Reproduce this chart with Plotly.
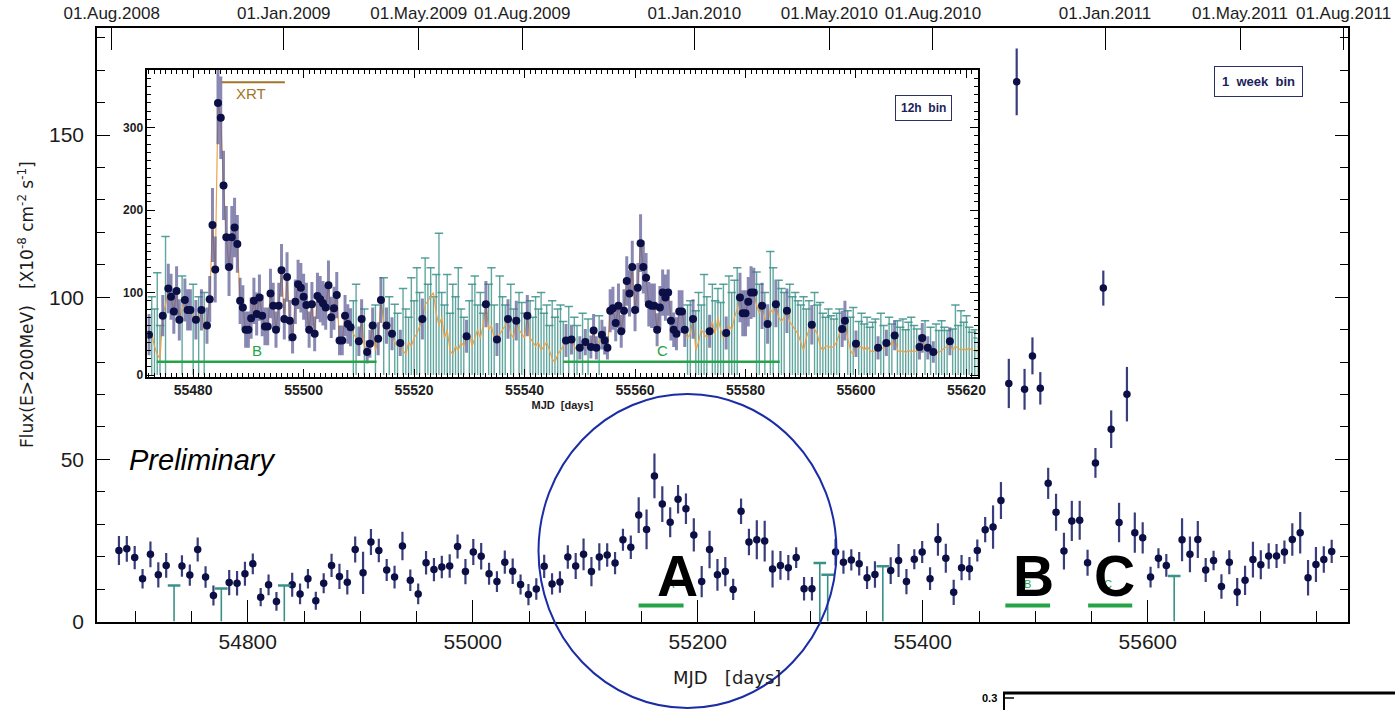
import datetime as dt
import plotly.graph_objects as go

# ---------------- weekly light curve (main panel) ----------------
WEEK_START = 54685.5          # centre of the first 1-week bin (MJD)
WEEK_STEP = 7.0

week_flux = [
    21.9, 22.4, 19.7, 13.2, 20.7, 14.4, 17.3, None, 17.1, 14.3,
    22.2, 13.7, 8.0, None, 12.0, 11.8, 14.7, 17.8, 7.5, 11.3,
    6.2, None, 11.3, 8.5, 13.2, 6.4, 11.8, 17.3, 13.9, 12.1,
    22.2, 15.0, 24.5, 21.9, 15.9, 13.7, 23.3, 12.7, 8.5, 18.1,
    16.0, 16.8, 17.1, 23.1, 15.4, 21.4, 20.1, 14.7, 12.3, 18.3,
    15.5, 11.4, 8.3, 10.0, 17.0, 11.6, 12.2, 19.9, 17.1, 20.7,
    15.4, 19.9, 20.5, 18.0, 25.2, 22.9, 32.8, 28.4, 44.9, 36.2,
    30.6, 37.7, 34.8, 26.7, 12.3, 22.2, 14.4, 15.4, 9.9, 34.0,
    24.5, 25.2, 24.8, 16.2, 17.3, 16.6, 19.7, 10.1, 10.1, None,
    None, 21.4, 18.3, 19.0, 17.8, 13.5, 14.5, None, 15.7, 18.8,
    12.3, 19.2, 21.4, 13.2, 25.3, 19.5, 9.0, 16.6, 16.3, 21.9,
    28.3, 29.1, 37.3, 73.4, 166.4, 71.6, 81.9, 71.9, 42.6, 33.7,
    21.7, 31.0, 31.2, 18.1, 48.9, 102.8, 59.3, 30.5, 70.1, 27.4,
    25.8, 13.7, 19.5, 17.3, None, 25.2, 20.7, 25.3, 15.9, 18.8,
    10.8, 18.3, 9.1, 12.7, 19.1, 17.5, 20.2, 20.2, 21.4, 25.3,
    27.4, 13.5, 17.6, 19.1, 21.6,
]
week_err = [
    4.5, 4.0, 3.6, 3.0, 4.0, 3.9, 3.8, None, 3.3, 3.3,
    3.7, 3.3, 3.1, None, 3.9, 3.8, 3.7, 3.2, 2.8, 3.2,
    2.9, None, 3.7, 3.2, 3.0, 2.8, 3.1, 3.6, 3.9, 3.8,
    4.0, 6.5, 4.0, 3.6, 3.4, 3.5, 4.4, 3.3, 3.2, 3.6,
    3.6, 3.5, 3.6, 3.7, 3.9, 4.0, 4.1, 3.4, 3.2, 3.6,
    3.9, 3.1, 3.3, 3.3, 3.6, 3.3, 3.3, 3.6, 4.0, 4.9,
    4.5, 4.2, 3.6, 3.4, 3.4, 3.6, 5.5, 6.1, 6.9, 5.5,
    4.6, 4.4, 4.7, 5.1, 4.8, 5.8, 4.9, 4.5, 3.3, 3.9,
    4.1, 6.0, 6.3, 5.7, 4.4, 3.9, 3.2, 3.6, 3.6, None,
    None, 4.1, 3.6, 3.3, 3.6, 3.5, 4.1, None, 4.1, 5.1,
    3.9, 3.1, 3.4, 3.5, 5.0, 4.5, 3.9, 3.9, 3.6, 3.4,
    3.9, 6.7, 5.7, 7.6, 10.3, 6.3, 5.7, 5.0, 4.8, 5.7,
    5.7, 6.2, 6.0, 4.0, 4.6, 5.4, 5.8, 6.1, 8.4, 6.2,
    4.8, 3.2, 3.1, 3.5, None, 6.6, 5.5, 5.7, 3.7, 3.0,
    3.8, 3.7, 4.3, 4.5, 5.5, 4.5, 3.9, 3.7, 3.6, 5.0,
    6.4, 5.5, 5.4, 4.1, 3.6,
]
# weekly bins with upper limits only (bin index, flux upper limit)
week_ul_index = [7, 13, 21, 89, 90, 97, 134]
week_ul_value = [11.1, 10.2, 11.1, 18.0, 14.4, 17.0, 14.0]

# activity periods marked under the light curve (MJD start, MJD end, label)
periods = [(55147.4, 55187.4, "A"), (55473.4, 55513.2, "B"), (55547.0, 55586.2, "C")]

# calendar ticks on the upper axis
date_ticks = ["01.Aug.2008", "01.Jan.2009", "01.May.2009", "01.Aug.2009",
              "01.Jan.2010", "01.May.2010", "01.Aug.2010", "01.Jan.2011",
              "01.May.2011", "01.Aug.2011"]

# ---------------- 12 h light curve (inset) ----------------
det_t = [
    55472.0, 55474.5, 55475.5, 55476.0, 55476.5, 55477.0, 55477.5, 55478.5, 55479.0, 55479.5,
    55480.5, 55481.5, 55482.5, 55483.0, 55483.5, 55484.0, 55484.5, 55485.0, 55485.5, 55486.0,
    55486.5, 55487.0, 55487.5, 55488.0, 55488.5, 55489.0, 55489.5, 55490.0, 55490.5, 55491.0,
    55491.5, 55492.0, 55492.5, 55493.0, 55493.5, 55494.0, 55494.5, 55495.0, 55495.5, 55496.0,
    55496.5, 55497.0, 55497.5, 55498.0, 55498.5, 55499.0, 55499.5, 55500.0, 55500.5, 55501.0,
    55501.5, 55502.0, 55502.5, 55503.0, 55503.5, 55504.0, 55504.5, 55505.0, 55505.5, 55506.0,
    55506.5, 55507.0, 55507.5, 55508.0, 55508.5, 55510.0, 55510.5, 55511.5, 55512.0, 55512.5,
    55513.5, 55514.0, 55515.0, 55516.0, 55517.5, 55521.5, 55529.5, 55533.0, 55535.0, 55537.0,
    55538.5, 55540.5, 55547.5, 55548.5, 55550.0, 55551.0, 55552.0, 55552.5, 55553.0, 55554.0,
    55554.5, 55555.0, 55555.5, 55556.0, 55556.5, 55557.0, 55557.5, 55558.0, 55558.5, 55559.0,
    55559.5, 55560.0, 55560.5, 55561.0, 55561.5, 55562.0, 55562.5, 55563.0, 55563.5, 55564.0,
    55564.5, 55565.0, 55565.5, 55566.0, 55566.5, 55567.0, 55567.5, 55568.0, 55568.5, 55569.0,
    55570.5, 55573.5, 55576.5, 55579.0, 55579.5, 55580.0, 55580.5, 55581.0, 55581.5, 55583.0,
    55584.0, 55585.5, 55587.5, 55592.0, 55597.5, 55598.0, 55600.0, 55604.0, 55605.5, 55607.0,
    55611.5, 55612.0, 55613.0, 55614.0, 55617.0,
]
det_f = [
    49, 72, 105, 95, 77, 102, 67, 91, 79, 79,
    67, 79, 60, 92, 182, 128, 330, 312, 230, 167,
    131, 167, 179, 159, 90, 82, 55, 55, 69, 90,
    74, 94, 72, 59, 59, 99, 84, 55, 84, 127,
    68, 119, 66, 46, 89, 110, 106, 95, 85, 55,
    86, 50, 96, 92, 87, 82, 109, 70, 81, 97,
    42, 42, 72, 62, 58, 41, 68, 28, 38, 60,
    44, 91, 60, 50, 39, 68, 47, 86, 43, 68,
    66, 72, 42, 43, 33, 40, 34, 54, 33, 49,
    42, 33, 78, 81, 63, 84, 53, 78, 114, 99,
    131, 79, 106, 160, 131, 118, 86, 84, 84, 55,
    82, 100, 94, 100, 66, 55, 50, 77, 77, 55,
    68, 53, 51, 94, 75, 75, 89, 100, 100, 84,
    62, 86, 78, 61, 56, 66, 38, 33, 39, 48,
    34, 45, 33, 28, 41,
]
det_e = [
    25, 25, 30, 28, 27, 30, 25, 26, 25, 25,
    24, 25, 22, 28, 45, 40, 50, 50, 42, 38,
    35, 38, 36, 35, 28, 27, 22, 22, 25, 28,
    26, 28, 25, 23, 23, 30, 28, 22, 28, 32,
    25, 30, 25, 20, 27, 30, 30, 28, 27, 22,
    27, 21, 28, 28, 27, 27, 30, 25, 26, 28,
    18, 18, 25, 24, 23, 18, 24, 14, 17, 22,
    20, 28, 22, 20, 16, 25, 20, 28, 20, 24,
    24, 25, 20, 18, 14, 16, 14, 20, 14, 18,
    17, 14, 26, 26, 22, 27, 20, 26, 30, 28,
    32, 26, 30, 35, 32, 30, 27, 27, 27, 20,
    26, 28, 28, 28, 24, 21, 20, 26, 26, 21,
    24, 20, 20, 30, 28, 28, 30, 32, 30, 28,
    24, 28, 27, 24, 22, 24, 16, 14, 16, 18,
    15, 18, 14, 13, 17,
]
ul_t = [
    55472.5, 55473.0, 55473.5, 55474.0, 55475.0, 55478.0, 55480.0, 55481.0, 55482.0, 55509.0,
    55509.5, 55511.0, 55513.0, 55514.5, 55515.5, 55516.5, 55517.0, 55518.0, 55518.5, 55519.0,
    55519.5, 55520.0, 55520.5, 55521.0, 55522.0, 55522.5, 55523.0, 55523.5, 55524.0, 55524.5,
    55525.0, 55525.5, 55526.0, 55526.5, 55527.0, 55527.5, 55528.0, 55528.5, 55529.0, 55530.0,
    55530.5, 55531.0, 55531.5, 55532.0, 55532.5, 55533.5, 55534.0, 55534.5, 55535.5, 55536.0,
    55536.5, 55537.5, 55538.0, 55539.0, 55539.5, 55540.0, 55541.0, 55541.5, 55542.0, 55542.5,
    55543.0, 55543.5, 55544.0, 55544.5, 55545.0, 55545.5, 55546.0, 55546.5, 55547.0, 55548.0,
    55549.0, 55549.5, 55550.5, 55551.5, 55553.5, 55569.5, 55570.0, 55571.0, 55571.5, 55572.0,
    55572.5, 55573.0, 55574.0, 55574.5, 55575.0, 55575.5, 55576.0, 55577.0, 55577.5, 55578.0,
    55578.5, 55582.0, 55582.5, 55583.5, 55584.5, 55585.0, 55586.0, 55586.5, 55587.0, 55588.0,
    55588.5, 55589.0, 55589.5, 55590.0, 55590.5, 55591.0, 55591.5, 55592.5, 55593.0, 55593.5,
    55594.0, 55594.5, 55595.0, 55595.5, 55596.0, 55596.5, 55597.0, 55598.5, 55599.0, 55599.5,
    55600.5, 55601.0, 55601.5, 55602.0, 55602.5, 55603.0, 55603.5, 55604.5, 55605.0, 55606.0,
    55606.5, 55607.5, 55608.0, 55608.5, 55609.0, 55609.5, 55610.0, 55610.5, 55611.0, 55612.5,
    55613.5, 55614.5, 55615.0, 55615.5, 55616.0, 55616.5, 55617.5, 55618.0, 55618.5, 55619.0,
    55619.5, 55620.0, 55620.5, 55621.0, 55621.5, 55622.0,
]
ul_v = [
    95, 80, 124, 60, 168, 120, 110, 95, 100, 90,
    110, 80, 85, 118, 95, 86, 75, 105, 80, 70,
    118, 90, 130, 100, 142, 110, 130, 95, 122, 172,
    100, 85, 122, 75, 110, 95, 130, 80, 70, 90,
    110, 120, 85, 100, 75, 110, 130, 85, 120, 95,
    85, 110, 80, 100, 88, 75, 90, 70, 95, 80,
    100, 75, 85, 60, 90, 70, 80, 85, 65, 83,
    70, 60, 75, 68, 72, 85, 90, 78, 100, 85,
    122, 95, 110, 90, 105, 88, 110, 120, 100, 115,
    130, 125, 110, 100, 150, 130, 115, 105, 100, 110,
    95, 100, 90, 85, 95, 80, 90, 100, 85, 88,
    75, 70, 80, 72, 68, 75, 80, 78, 70, 82,
    65, 75, 62, 70, 58, 64, 68, 75, 60, 70,
    62, 66, 58, 68, 55, 64, 70, 60, 56, 66,
    58, 62, 54, 66, 58, 54, 56, 85, 60, 78,
    64, 72, 58, 52, 55, 45,
]
# likelihood flux estimate in the upper-limit bins (orange curve)
ul_line = [
    50, 35, 25, 20, 85, 80, 70, 65, 55, 50,
    45, 35, 30, 65, 55, 40, 35, 30, 25, 40,
    35, 45, 50, 60, 85, 90, 95, 100, 75, 60,
    70, 45, 55, 30, 25, 35, 30, 40, 35, 50,
    35, 45, 55, 45, 60, 55, 60, 45, 50, 55,
    60, 50, 45, 55, 50, 45, 45, 40, 35, 40,
    30, 35, 40, 30, 20, 15, 25, 30, 35, 40,
    35, 30, 35, 35, 40, 45, 50, 30, 40, 55,
    50, 45, 65, 50, 70, 55, 45, 60, 55, 70,
    80, 85, 75, 70, 80, 75, 70, 65, 70, 65,
    60, 55, 50, 40, 30, 45, 55, 55, 50, 35,
    30, 35, 35, 33, 35, 40, 50, 45, 30, 25,
    33, 35, 30, 35, 30, 28, 30, 33, 32, 40,
    35, 30, 28, 30, 27, 30, 28, 30, 28, 35,
    30, 28, 27, 30, 32, 35, 30, 35, 33, 30,
    32, 30, 33, 30, 30, 28,
]
xrt_span = (55485.2, 55496.6, 355)      # XRT coverage (MJD start, MJD end, height)
inset_periods = [(55473.4, 55513.2, "B"), (55547.0, 55586.2, "C")]

# ---------------- figure geometry (pixels) ----------------
W, H = 1395, 710
def px(x):
    return x / W
def py(y):
    return (H - y) / H

NAVY = "#0b0f45"
BAR = "#393d7c"
TEAL = "#3a9188"
GREEN = "#25a347"
BROWN = "#a27428"
ORANGE = "#eda24a"
FONT = "Liberation Sans"
TXT = "#1c1c1c"

fig = go.Figure()

# weekly detections
week_t = [WEEK_START + WEEK_STEP * i for i in range(len(week_flux))]
fig.add_trace(go.Scatter(
    x=week_t, y=week_flux, mode="markers",
    marker=dict(color=NAVY, size=7.5, symbol="circle"),
    error_y=dict(type="data", array=week_err, color=BAR, thickness=2.2, width=0),
    xaxis="x", yaxis="y", showlegend=False, hoverinfo="x+y"))

# weekly upper limits
ux, uy = [], []
for i, v in zip(week_ul_index, week_ul_value):
    t = week_t[i]
    ux += [t, t, None]
    uy += [0, v, None]
fig.add_trace(go.Scatter(x=ux, y=uy, mode="lines", line=dict(color=TEAL, width=1.6),
                         xaxis="x", yaxis="y", showlegend=False, hoverinfo="skip"))
fig.add_trace(go.Scatter(x=[week_t[i] for i in week_ul_index], y=week_ul_value, mode="markers",
                         marker=dict(symbol="line-ew", size=9, line=dict(color=TEAL, width=2.5)),
                         xaxis="x", yaxis="y", showlegend=False, hoverinfo="skip"))

# invisible trace so the calendar axis is drawn
fig.add_trace(go.Scatter(x=[55000], y=[0], mode="markers", marker=dict(opacity=0),
                         xaxis="x2", yaxis="y", showlegend=False, hoverinfo="skip"))

# inset: upper limits
ix, iy = [], []
for t, v in zip(ul_t, ul_v):
    ix += [t, t, None]
    iy += [0, v, None]
fig.add_trace(go.Scatter(x=ix, y=iy, mode="lines", line=dict(color="rgba(58,145,136,0.8)", width=1.4),
                         xaxis="x3", yaxis="y3", showlegend=False, hoverinfo="skip"))
fig.add_trace(go.Scatter(x=ul_t, y=ul_v, mode="markers",
                         marker=dict(symbol="line-ew", size=6, line=dict(color="rgba(58,145,136,0.85)", width=1.5)),
                         xaxis="x3", yaxis="y3", showlegend=False, hoverinfo="skip"))

# inset: orange flux curve through every 12 h bin
curve = sorted(list(zip(det_t, det_f)) + list(zip(ul_t, ul_line)))
fig.add_trace(go.Scatter(x=[c[0] for c in curve], y=[c[1] for c in curve], mode="lines",
                         line=dict(color=ORANGE, width=1.2),
                         xaxis="x3", yaxis="y3", showlegend=False, hoverinfo="skip"))

# inset: detections
fig.add_trace(go.Scatter(
    x=det_t, y=det_f, mode="markers",
    marker=dict(color=NAVY, size=8),
    error_y=dict(type="data", array=det_e, color="rgba(92,92,150,0.72)", thickness=3, width=0),
    xaxis="x3", yaxis="y3", showlegend=False, hoverinfo="x+y"))

shapes = []
annotations = []

def label(xp, yp, text, size, color=TXT, **kw):
    d = dict(x=px(xp), y=py(yp), xref="paper", yref="paper", text=text, showarrow=False,
             xanchor="center", yanchor="middle", font=dict(family=FONT, size=size, color=color))
    d.update(kw)
    annotations.append(d)

# activity periods on the weekly light curve
for t0, t1, lab in periods:
    shapes.append(dict(type="line", xref="x", yref="y", x0=t0, x1=t1, y0=4.9, y1=4.9,
                       line=dict(color=GREEN, width=4)))
for xc, lab in [(677, "A"), (1033, "B"), (1114, "C")]:
    label(xc - 6, 584, lab, 11, GREEN)
    label(xc, 576, "<b>%s</b>" % lab, 57, "black")

# periods in the inset
for t0, t1, lab in inset_periods:
    shapes.append(dict(type="line", xref="x3", yref="y3", x0=t0, x1=t1, y0=16, y1=16,
                       line=dict(color=GREEN, width=2.5)))
    annotations.append(dict(x=(t0 + t1) / 2 - 1.7, y=30, xref="x3", yref="y3", text=lab,
                            xanchor="center", yanchor="middle", showarrow=False,
                            font=dict(family=FONT, size=15, color=GREEN)))

# XRT coverage
shapes.append(dict(type="line", xref="x3", yref="y3", x0=xrt_span[0], x1=xrt_span[1],
                   y0=xrt_span[2], y1=xrt_span[2], line=dict(color=BROWN, width=2)))
annotations.append(dict(x=(xrt_span[0] + xrt_span[1]) / 2 - 0.5, y=xrt_span[2] - 14, xref="x3", yref="y3",
                        text="XRT", xanchor="center", yanchor="middle", showarrow=False,
                        font=dict(family=FONT, size=15, color=BROWN)))

# highlight ring around period A
shapes.append(dict(type="circle", xref="paper", yref="paper",
                   x0=px(538.5), x1=px(836.5), y0=py(708), y1=py(394),
                   line=dict(color="#1a2ca6", width=2)))

# fragment of the panel below
shapes.append(dict(type="line", xref="paper", yref="paper", x0=px(1003), x1=px(1395), y0=py(693), y1=py(693),
                   line=dict(color="black", width=3)))
shapes.append(dict(type="line", xref="paper", yref="paper", x0=px(1004), x1=px(1004), y0=py(693), y1=py(710),
                   line=dict(color="black", width=2)))
shapes.append(dict(type="line", xref="paper", yref="paper", x0=px(1004), x1=px(1014), y0=py(698), y1=py(698),
                   line=dict(color="black", width=1.5)))
label(989, 698, "<b>0.3</b>", 11, "black")

label(127, 460, "<i>Preliminary</i>", 29, "black", xanchor="left")
label(1258.8, 81.3, "<b>1  week  bin</b>", 13, "#1a1f5a", bgcolor="white",
      bordercolor="#2a2f6a", borderwidth=1, borderpad=7)
label(923.5, 107.8, "<b>12h  bin</b>", 12, "#1a1f5a", bgcolor="white",
      bordercolor="#2a2f6a", borderwidth=1, borderpad=5)

# axis titles of the weekly panel
label(26, 305, "Flux(E>200MeV)   [X10<sup>-8</sup> cm<sup>-2</sup> s<sup>-1</sup>]", 17, TXT,
      textangle=-90, font=dict(family="DejaVu Sans", size=17, color=TXT))
label(727, 677, "MJD   [days]", 18, TXT, font=dict(family="DejaVu Sans", size=18, color=TXT))

date_mjd = [(dt.datetime.strptime(s, "%d.%b.%Y").date() - dt.date(1858, 11, 17)).days for s in date_ticks]

XR = [54666, 55778]
main_dom_x = [px(97), px(1348)]
main_dom_y = [py(621.5), py(28)]

fig.update_layout(
    width=W, height=H, margin=dict(l=0, r=0, t=0, b=0, autoexpand=False),
    paper_bgcolor="white", plot_bgcolor="white",
    font=dict(family=FONT, color="black"),
    shapes=shapes, annotations=annotations,
    xaxis=dict(domain=main_dom_x, anchor="y", range=XR, showline=True, linecolor="black", linewidth=1.6,
               mirror=False, ticks="inside", tick0=54800, dtick=200, ticklen=22, tickwidth=1.3,
               tickcolor="black", showgrid=False, zeroline=False, automargin=False, tickformat="d",
               tickfont=dict(family=FONT, size=21, color=TXT),
               minor=dict(ticks="inside", tick0=54800, dtick=50, ticklen=11, tickwidth=1.3,
                          tickcolor="black", showgrid=False)),
    xaxis2=dict(overlaying="x", anchor="y", side="top", range=XR, showline=True, linecolor="black",
                linewidth=1.6, ticks="inside", tickvals=date_mjd, ticktext=date_ticks, ticklen=22,
                tickwidth=1.3, tickcolor="black", showgrid=False, zeroline=False, automargin=False,
                tickfont=dict(size=17, color=TXT)),
    yaxis=dict(domain=main_dom_y, anchor="x", range=[0, 183], showline=True, linecolor="black",
               linewidth=1.6, mirror="ticks", ticks="inside", tick0=0, dtick=50, ticklen=13,
               tickwidth=1.3, tickcolor="black", showgrid=False, zeroline=False, automargin=False,
               ticklabelstandoff=7,
               tickfont=dict(family=FONT, size=21, color=TXT),
               minor=dict(ticks="inside", dtick=10, ticklen=8, tickwidth=1.3, tickcolor="black",
                          showgrid=False)),
    xaxis3=dict(domain=[px(147.3), px(977.5)], anchor="y3", range=[55471.7, 55622.0], showline=True,
                linecolor="black", linewidth=1.5, mirror="ticks", ticks="inside", tick0=55480, dtick=20,
                ticklen=8, tickwidth=1.2, tickcolor="black", showgrid=False, zeroline=False,
                automargin=False, tickformat="d",
                tickfont=dict(size=14, color=TXT, weight="bold"),
                minor=dict(ticks="inside", dtick=1, ticklen=4, tickwidth=1, tickcolor="black", showgrid=False),
                title=dict(text="<b>MJD  [days]</b>", font=dict(size=11, color=TXT), standoff=4)),
    yaxis3=dict(domain=[py(376.7), py(70)], anchor="x3", range=[-2, 370], showline=True,
                linecolor="black", linewidth=1.5, mirror="ticks", ticks="inside", tick0=0, dtick=100,
                ticklen=8, tickwidth=1.2, tickcolor="black", showgrid=False, zeroline=False,
                automargin=False,
                tickfont=dict(size=12, color=TXT, weight="bold"),
                minor=dict(ticks="inside", dtick=10, ticklen=4, tickwidth=1, tickcolor="black", showgrid=False)),
)

fig.write_html("out.html")
